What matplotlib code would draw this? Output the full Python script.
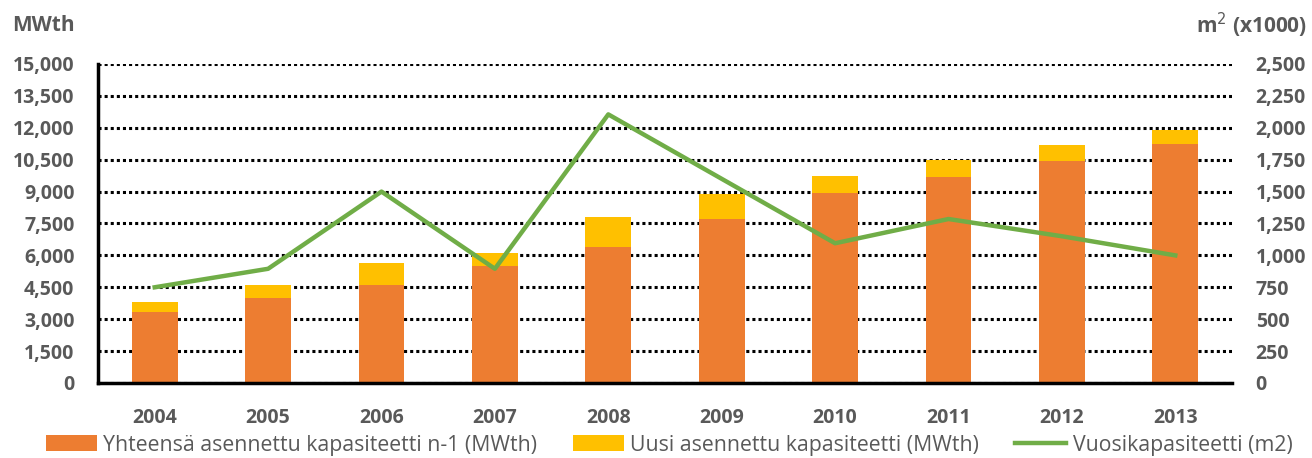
import matplotlib
matplotlib.use("Agg")
import matplotlib.pyplot as plt
from matplotlib.ticker import FuncFormatter
import numpy as np

years = ["2004", "2005", "2006", "2007", "2008", "2009", "2010", "2011", "2012", "2013"]
installed_prev = [3320, 4000, 4600, 5500, 6400, 7700, 8950, 9700, 10450, 11240]
new_installed = [480, 600, 1030, 600, 1400, 1200, 780, 800, 750, 660]
annual_m2 = [750, 895, 1500, 895, 2105, 1600, 1095, 1285, 1150, 1000]

left_ticks = [0, 1500, 3000, 4500, 6000, 7500, 9000, 10500, 12000, 13500, 15000]
right_ticks = [0, 250, 500, 750, 1000, 1250, 1500, 1750, 2000, 2250, 2500]

lbl_prev = "Yhteensä asennettu kapasiteetti n-1 (MWth)"
lbl_new = "Uusi asennettu kapasiteetti (MWth)"
lbl_line = "Vuosikapasiteetti (m2)"

ORANGE = "#ED7D31"
YELLOW = "#FFC000"
GREEN = "#70AD47"
GREY = "#595959"

plt.rcParams['font.family'] = ['Open Sans', 'DejaVu Sans']

fig = plt.figure(figsize=(13.12, 4.58), dpi=100)
ax = fig.add_axes([0.0747, 0.1638, 0.8643, 0.6965])
x = np.arange(len(years))
w = 0.405
ax.bar(x, installed_prev, w, color=ORANGE, label=lbl_prev, zorder=3)
ax.bar(x, new_installed, w, bottom=installed_prev, color=YELLOW, label=lbl_new, zorder=3)
ax.set_xlim(-0.5, len(years) - 0.5)
ax.set_ylim(0, 15000)
ax.set_yticks(left_ticks)
ax.yaxis.set_major_formatter(FuncFormatter(lambda v, p: f"{int(v):,}"))
ax.set_xticks(x)
ax.set_xticklabels(years)
ax.grid(axis='y', color='black', linestyle=(0, (1, 1)), linewidth=2.2, zorder=1)
ax.set_axisbelow(True)
for s in ['top', 'right']:
    ax.spines[s].set_visible(False)
ax.spines['left'].set_linewidth(2.5)
ax.spines['bottom'].set_linewidth(2.5)
ax.spines['bottom'].set_zorder(4)
ax.tick_params(axis='both', length=0, labelsize=14, labelcolor=GREY)
ax.tick_params(axis='y', pad=17)
ax.tick_params(axis='x', pad=18)
for t in ax.get_yticklabels() + ax.get_xticklabels():
    t.set_fontweight('bold')

ax2 = ax.twinx()
ln, = ax2.plot(x, annual_m2, color=GREEN, linewidth=3.2, label=lbl_line, zorder=5)
ax2.set_ylim(0, 2500)
ax2.set_yticks(right_ticks)
ax2.yaxis.set_major_formatter(FuncFormatter(lambda v, p: f"{int(v):,}"))
for s in ['top', 'right', 'left', 'bottom']:
    ax2.spines[s].set_visible(False)
ax2.tick_params(axis='y', length=0, labelsize=14, labelcolor=GREY, pad=17)
for t in ax2.get_yticklabels():
    t.set_fontweight('bold')

fig.text(0.009, 0.944, "MWth", fontsize=15, fontweight='bold', color=GREY, ha='left', va='center')
fig.text(0.996, 0.944, "m$^2$ (x1000)", fontsize=15, fontweight='bold', color=GREY, ha='right', va='center')

h1, l1 = ax.get_legend_handles_labels()
leg = fig.legend(h1 + [ln], l1 + [lbl_line], loc='center', bbox_to_anchor=(0.51, 0.028),
                 ncol=3, frameon=False, fontsize=15.3, handlelength=2.4, handleheight=0.8,
                 columnspacing=1.7, handletextpad=0.3)
for t in leg.get_texts():
    t.set_color(GREY)

fig.savefig("out.png", dpi=100)
